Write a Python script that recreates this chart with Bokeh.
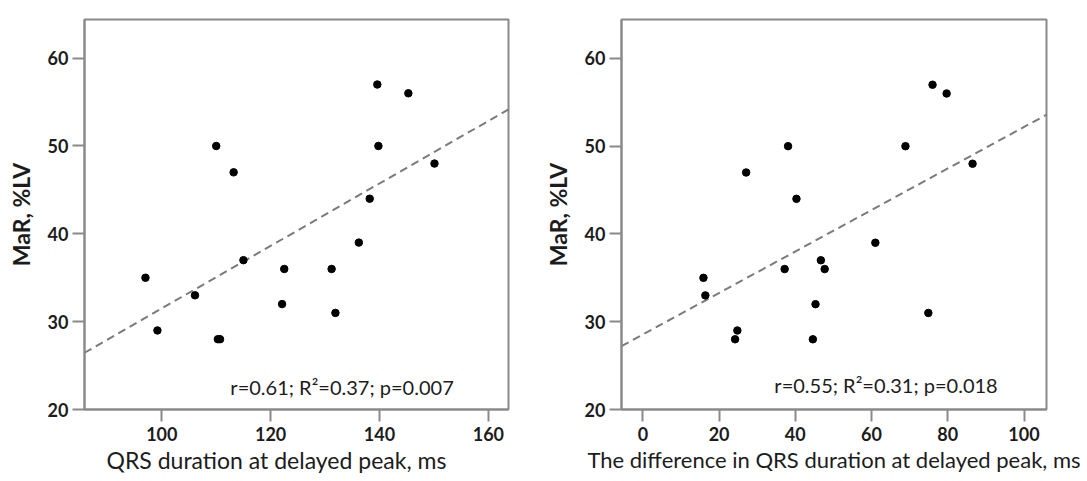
import numpy as np
from bokeh.plotting import figure
from bokeh.models import FixedTicker, Range1d, Label, Title
from bokeh.layouts import row
from bokeh.embed import file_html
from bokeh.resources import INLINE

# ---- data ----
qrs_ms = [97.0, 99.2, 106.1, 110.0, 110.3, 110.7, 113.2, 115.0, 122.1, 122.5,
          131.2, 131.9, 136.2, 138.2, 139.6, 139.8, 145.3, 150.1]
mar_left = [35, 29, 33, 50, 28, 28, 47, 37, 32, 36, 36, 31, 39, 44, 57, 50, 56, 48]

diff_ms = [15.9, 16.4, 24.2, 24.8, 27.1, 37.2, 38.1, 40.3, 44.6, 45.3,
           46.7, 47.7, 61.0, 68.9, 74.9, 76.0, 79.7, 86.5]
mar_right = [35, 33, 28, 29, 47, 36, 50, 44, 28, 32, 37, 36, 39, 50, 31, 57, 56, 48]

left_x_ticks = [100, 120, 140, 160]
right_x_ticks = [0, 20, 40, 60, 80, 100]
y_ticks = [20, 30, 40, 50, 60]

left_x_label = "QRS duration at delayed peak, ms"
right_x_label = "The difference in QRS duration at delayed peak, ms"
y_label = "MaR, %LV"
left_stats = "r=0.61; R\u00b2=0.37; p=0.007"
right_stats = "r=0.55; R\u00b2=0.31; p=0.018"

FONT = "Lato"
GRAY = "#8a8a8a"
TEXT = "#1c1c1c"


def make_panel(x, y, x_start, x_end, y_end, xticks, stats, stats_x, stats_y,
               width, height, bl, br, bt, bb):
    p = figure(width=width, height=height, output_backend="svg", toolbar_location=None,
               x_range=Range1d(x_start, x_end), y_range=Range1d(20, y_end),
               min_border_left=bl, min_border_right=br, min_border_top=bt, min_border_bottom=bb)
    p.grid.visible = False
    p.background_fill_color = "white"
    p.border_fill_color = "white"
    p.outline_line_color = GRAY
    p.outline_line_width = 2

    for ax, ticks in ((p.xaxis[0], xticks), (p.yaxis[0], y_ticks)):
        ax.ticker = FixedTicker(ticks=ticks)
        ax.axis_line_color = GRAY
        ax.axis_line_width = 2
        ax.major_tick_line_color = GRAY
        ax.major_tick_line_width = 2
        ax.major_tick_out = 12
        ax.major_tick_in = 0
        ax.minor_tick_out = 0
        ax.minor_tick_in = 0
        ax.major_label_text_font = FONT
        ax.major_label_text_font_size = "18px"
        ax.major_label_text_font_style = "bold"
        ax.major_label_text_color = TEXT
        ax.axis_label_text_font = FONT
        ax.axis_label_text_color = TEXT

    p.xaxis[0].major_label_standoff = 5
    p.xaxis[0].axis_label_standoff = 2
    p.xaxis[0].axis_label_text_font_size = "22px"
    p.xaxis[0].axis_label_text_font_style = "normal"

    p.yaxis[0].axis_label = y_label
    p.yaxis[0].axis_label_text_font_size = "23px"
    p.yaxis[0].axis_label_text_font_style = "bold"
    p.yaxis[0].major_label_standoff = 4
    p.yaxis[0].axis_label_standoff = 10

    # least-squares fit line through the data
    slope, intercept = np.polyfit(np.array(x, float), np.array(y, float), 1)
    xs = [x_start, x_end]
    ys = [intercept + slope * v for v in xs]
    p.line(xs, ys, line_dash="8 5", line_width=2, line_color="#7b7b7b")

    p.scatter(x, y, size=7.5, fill_color="black", line_color="black")

    p.add_layout(Label(x=stats_x, y=stats_y, text=stats, text_font=FONT,
                       text_font_size="20px", text_color=TEXT, text_baseline="middle",
                       text_align="left"))
    return p


p1 = make_panel(qrs_ms, mar_left, 85.8, 163.7, 64.4, left_x_ticks,
                left_stats, 112.6, 22.6,
                width=540, height=481, bl=84, br=32, bt=19, bb=70)
# left x-axis title sits left of the frame centre in the reference
p1.add_layout(Title(text=left_x_label, align="left", offset=22, standoff=0,
                    text_font=FONT, text_font_size="23px", text_font_style="normal",
                    text_color=TEXT), "below")

p2 = make_panel(diff_ms, mar_right, -5.6, 105.9, 64.43, right_x_ticks,
                right_stats, 34.5, 22.8,
                width=547, height=481, bl=68, br=41, bt=6, bb=72)
p2.xaxis[0].axis_label = right_x_label

layout = row(p1, p2)
open("out.html", "w").write(file_html(layout, INLINE))
